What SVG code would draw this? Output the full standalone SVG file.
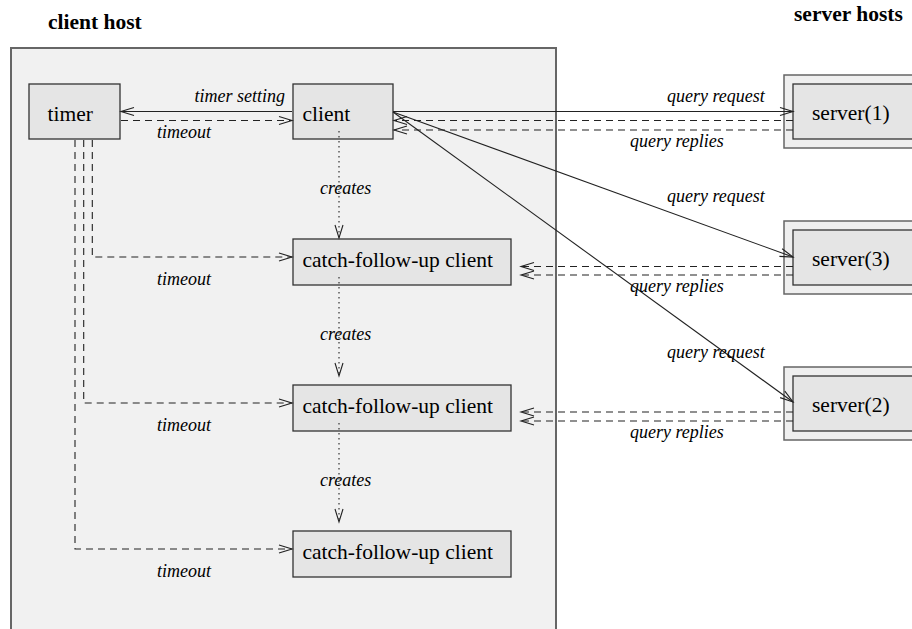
<svg xmlns="http://www.w3.org/2000/svg" width="912" height="629" viewBox="0 0 912 629">
<defs>
<marker id="arr" markerUnits="userSpaceOnUse" markerWidth="14" markerHeight="10" refX="13" refY="4.5" orient="auto" overflow="visible">
<path d="M0,0.5 L13,4.5 L0,8.5" fill="none" stroke="#222" stroke-width="1.1"/>
</marker>
</defs>
<style>
.title{font-family:"Liberation Serif","Times New Roman",serif;font-weight:bold;font-size:21.5px;fill:#000}
.host{fill:#f1f1f1;stroke:#666;stroke-width:2}
.outer{fill:#efefef;stroke:#666;stroke-width:1.5}
.node{fill:#e5e5e5;stroke:#333;stroke-width:1.3}
.nt{font-family:"Liberation Serif","Times New Roman",serif;font-size:21.5px;fill:#000}
.lbl{font-family:"Liberation Serif","Times New Roman",serif;font-style:italic;font-size:18px;fill:#000}
.solid{fill:none;stroke:#222;stroke-width:1.1}
.dash{fill:none;stroke:#222;stroke-width:1.1;stroke-dasharray:7 5}
.dot{fill:none;stroke:#222;stroke-width:1.1;stroke-dasharray:1.5 3.5}
</style>
<rect width="912" height="629" fill="#fff"/>
<text class="title" x="48" y="29">client host</text>
<text class="title" x="794" y="21">server hosts</text>
<g id="client-host"><rect class="host" x="11" y="48" width="545" height="620"/></g>

<g id="timer"><rect class="node" x="29" y="84" width="91" height="55"/><text class="nt" x="47.5" y="120.5">timer</text></g>
<g id="client"><rect class="node" x="293" y="84" width="100" height="55"/><text class="nt" x="302.5" y="120.5">client</text></g>
<g id="cfu1"><rect class="node" x="293" y="239" width="218" height="46"/><text class="nt" x="302.5" y="266.5">catch-follow-up client</text></g>
<g id="cfu2"><rect class="node" x="293" y="385" width="218" height="46"/><text class="nt" x="302.5" y="412.5">catch-follow-up client</text></g>
<g id="cfu3"><rect class="node" x="293" y="531" width="218" height="46"/><text class="nt" x="302.5" y="558.5">catch-follow-up client</text></g>

<g id="server1"><rect class="outer" x="784" y="75" width="140" height="73"/><rect class="node" x="793" y="84" width="130" height="55"/><text class="nt" x="812" y="120">server(1)</text></g>
<g id="server3"><rect class="outer" x="784" y="221" width="140" height="73"/><rect class="node" x="793" y="230" width="130" height="55"/><text class="nt" x="812" y="265.5">server(3)</text></g>
<g id="server2"><rect class="outer" x="784" y="367" width="140" height="73"/><rect class="node" x="793" y="376" width="130" height="55"/><text class="nt" x="812" y="411.5">server(2)</text></g>

<g id="connectors">
<path class="solid" d="M292,111.5 H121" marker-end="url(#arr)"/>
<path class="dash" d="M121,120.5 H292" marker-end="url(#arr)"/>
<path class="dash" d="M92.3,140 V257 H292" marker-end="url(#arr)"/>
<path class="dash" d="M83.7,140 V403 H292" marker-end="url(#arr)"/>
<path class="dash" d="M75,140 V549 H292" marker-end="url(#arr)"/>
<path class="dot" d="M339,131 V238" marker-end="url(#arr)"/>
<path class="dot" d="M339,277 V376" marker-end="url(#arr)"/>
<path class="dot" d="M339,423 V522" marker-end="url(#arr)"/>
<path class="solid" d="M393,111.5 H793" marker-end="url(#arr)"/>
<path class="solid" d="M393,112 L793,257" marker-end="url(#arr)"/>
<path class="solid" d="M393,112 L793,402" marker-end="url(#arr)"/>
<path class="dash" d="M793,120.5 H394" marker-end="url(#arr)"/>
<path class="dash" d="M793,130 H394" marker-end="url(#arr)"/>
<path class="dash" d="M793,266.5 H521" marker-end="url(#arr)"/>
<path class="dash" d="M793,275 H521" marker-end="url(#arr)"/>
<path class="dash" d="M793,412 H521" marker-end="url(#arr)"/>
<path class="dash" d="M793,421 H521" marker-end="url(#arr)"/>
</g>

<g id="labels">
<text class="lbl" x="285" y="102" text-anchor="end">timer setting</text>
<text class="lbl" x="157" y="138">timeout</text>
<text class="lbl" x="157" y="285">timeout</text>
<text class="lbl" x="157" y="431">timeout</text>
<text class="lbl" x="157" y="577">timeout</text>
<text class="lbl" x="320" y="194">creates</text>
<text class="lbl" x="320" y="340">creates</text>
<text class="lbl" x="320" y="486">creates</text>
<text class="lbl" x="667" y="102">query request</text>
<text class="lbl" x="667" y="202">query request</text>
<text class="lbl" x="667" y="358">query request</text>
<text class="lbl" x="630" y="147">query replies</text>
<text class="lbl" x="630" y="292">query replies</text>
<text class="lbl" x="630" y="438">query replies</text>
</g>
</svg>
